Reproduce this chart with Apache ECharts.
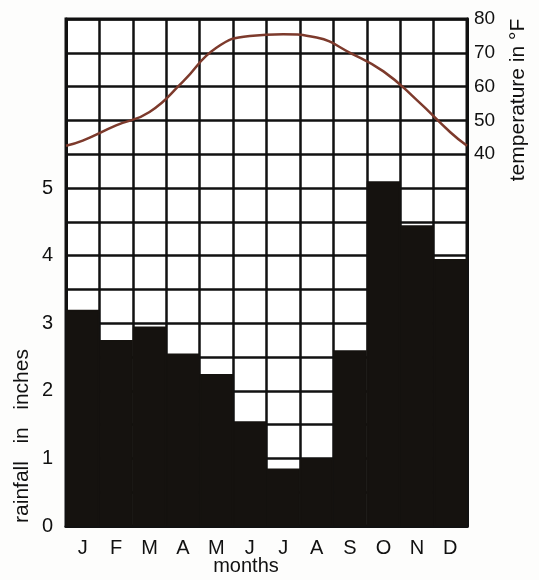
<!DOCTYPE html>
<html>
<head>
<meta charset="utf-8">
<script src="https://cdn.jsdelivr.net/npm/echarts@6/dist/echarts.min.js"></script>
<style>
  html, body { margin: 0; padding: 0; background: #fdfdfc; }
  #climate-chart { width: 539px; height: 580px; }
</style>
</head>
<body>
<div id="climate-chart"></div>
<script>
//---------------------Data---------------------
let months = ['J', 'F', 'M', 'A', 'M', 'J', 'J', 'A', 'S', 'O', 'N', 'D'];
// rainfall in inches, one bar per month
let rainfall = [3.2, 2.75, 2.95, 2.55, 2.25, 1.55, 0.85, 1.0, 2.6, 5.1, 4.45, 3.95];
// temperature in °F at mid-month
let temperature = [44, 48.5, 52.5, 61.5, 71.5, 75, 75.5, 74.5, 70, 64.5, 56, 46.5];
// curve ends at the left and right border of the grid
let temperature_start = 42.5;
let temperature_end = 42.5;
let rainfall_ticks = [0, 1, 2, 3, 4, 5];
let temperature_ticks = [40, 50, 60, 70, 80];

// Get dom in html
let climate_chart_dom = document.getElementById("climate-chart");
let climate_chart = echarts.init(climate_chart_dom);

let label_font = 'Liberation Sans, Arial, sans-serif';
let ink = '#111';
let bar_ink = '#15120f';

// temperature line sits on a hidden value axis, months at 0.5, 1.5 ...
let temperature_data = [[0, temperature_start]];
temperature.forEach(function (t, i) {
    temperature_data.push([i + 0.5, t]);
});
temperature_data.push([12, temperature_end]);

//--------------------Location--------------------
let climate_grid = {
    left: 66,
    right: 72,
    top: 19,
    bottom: 54,
    show: true,
    borderColor: ink,
    borderWidth: 3,
    backgroundColor: '#fff'
};

//---------------------Axes---------------------
let climate_x_axes = [
    {
        type: 'category',
        data: months,
        axisLine: {lineStyle: {color: ink, width: 3}},
        axisTick: {show: false},
        splitLine: {show: true, interval: 0, lineStyle: {color: ink, width: 2.5}},
        axisLabel: {color: ink, fontSize: 20, fontFamily: label_font, margin: 12, interval: 0}
    },
    {
        type: 'value',
        min: 0,
        max: 12,
        show: false
    }
];

let climate_y_axes = [
    {
        type: 'value',
        min: 0,
        max: 7.5,
        interval: 0.5,
        axisLine: {show: true, lineStyle: {color: ink, width: 3}},
        axisTick: {show: false},
        splitLine: {show: true, lineStyle: {color: ink, width: 2.5}},
        axisLabel: {
            color: ink, fontSize: 20, fontFamily: label_font, margin: 13,
            formatter: function (v) {
                return rainfall_ticks.indexOf(v) >= 0 ? String(v) : '';
            }
        }
    },
    {
        type: 'value',
        min: -70,
        max: 80,
        interval: 10,
        position: 'right',
        axisLine: {show: true, lineStyle: {color: ink, width: 3}},
        axisTick: {show: false},
        splitLine: {show: false},
        axisLabel: {
            color: ink, fontSize: 19, fontFamily: label_font, margin: 7,
            formatter: function (v) {
                return temperature_ticks.indexOf(v) >= 0 ? String(v) : '';
            }
        }
    }
];

//---------------------Series---------------------
let rainfall_series = {
    type: 'bar',
    name: 'rainfall',
    data: rainfall,
    barCategoryGap: '0%',
    itemStyle: {color: bar_ink, borderColor: bar_ink, borderWidth: 1.5},
    z: 3
};

let temperature_series = {
    type: 'line',
    name: 'temperature',
    xAxisIndex: 1,
    yAxisIndex: 1,
    data: temperature_data,
    smooth: true,
    showSymbol: false,
    lineStyle: {color: '#7d3a2c', width: 2.5},
    z: 4
};

//---------------------Titles---------------------
let axis_titles = [
    {
        type: 'text',
        x: 22,
        y: 436,
        rotation: Math.PI / 2,
        style: {
            text: 'rainfall   in   inches',
            fill: ink,
            font: '21px ' + label_font,
            textAlign: 'center',
            textVerticalAlign: 'middle'
        }
    },
    {
        type: 'text',
        x: 518,
        y: 100,
        rotation: Math.PI / 2,
        style: {
            text: 'temperature in °F',
            fill: ink,
            font: '21px ' + label_font,
            textAlign: 'center',
            textVerticalAlign: 'middle'
        }
    },
    {
        type: 'text',
        x: 246,
        y: 566,
        style: {
            text: 'months',
            fill: ink,
            font: '20px ' + label_font,
            textAlign: 'center',
            textVerticalAlign: 'middle'
        }
    }
];

//------------------Generate Graph------------------
let climate_chart_option = {
    backgroundColor: '#fdfdfc',
    animation: false,
    grid: climate_grid,
    xAxis: climate_x_axes,
    yAxis: climate_y_axes,
    series: [rainfall_series, temperature_series],
    graphic: axis_titles
};
climate_chart.setOption(climate_chart_option, true);
</script>
</body>
</html>
